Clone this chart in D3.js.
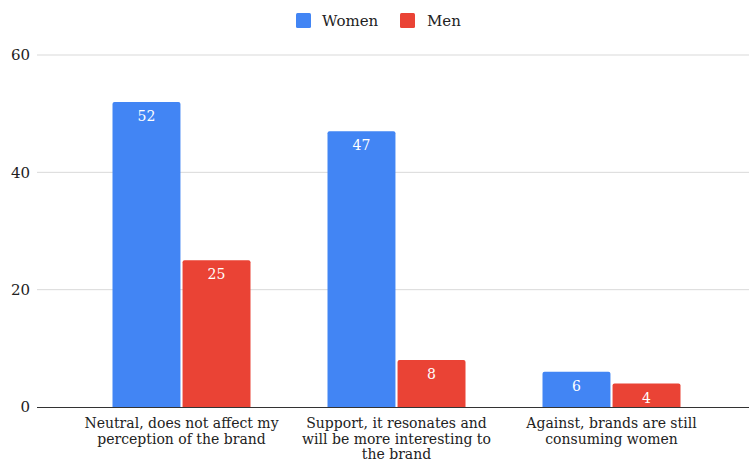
<!DOCTYPE html>
<html>
<head>
<meta charset="utf-8">
<script src="https://cdn.jsdelivr.net/npm/d3@7"></script>
<style>
  html, body { margin: 0; padding: 0; background: #fff; }
  svg { display: block; font-family: "DejaVu Serif", Georgia, serif; }
</style>
</head>
<body>
<svg id="chart" width="749" height="464"></svg>
<script>
const categories = [
  ["Neutral, does not affect my", "perception of the brand"],
  ["Support, it resonates and", "will be more interesting to", "the brand"],
  ["Against, brands are still", "consuming women"]
];
const seriesNames = ["Women", "Men"];
const women = [52, 47, 6];
const men = [25, 8, 4];
const yTicks = [0, 20, 40, 60];
const colors = ["#4285F4", "#EA4335"];

const svg = d3.select("#chart");
const plot = { left: 37, right: 749, top: 55, bottom: 407 };

const y = d3.scaleLinear().domain([0, 60]).range([plot.bottom, plot.top]);
const x = d3.scaleBand().domain(d3.range(categories.length)).range([74, 719]);
const xs = d3.scaleBand().domain(seriesNames)
  .range([x.bandwidth() / 2 - 69, x.bandwidth() / 2 + 69]).paddingInner(0.03);

// gridlines
svg.append("g")
  .selectAll("line").data(yTicks.filter(t => t > 0)).join("line")
  .attr("x1", plot.left).attr("x2", plot.right)
  .attr("y1", d => y(d)).attr("y2", d => y(d))
  .attr("stroke", "#d9d9d9").attr("stroke-width", 1);

// y tick labels
const yAxis = d3.axisLeft(y).tickValues(yTicks).tickSize(0).tickPadding(7);
const gy = svg.append("g").attr("transform", `translate(${plot.left},0)`).call(yAxis);
gy.select(".domain").remove();
gy.selectAll("text").attr("font-size", 15).attr("fill", "#222")
  .attr("font-family", "'DejaVu Serif', Georgia, serif");

// bars
const data = categories.map((c, i) => ({ i, vals: [women[i], men[i]] }));
const groups = svg.append("g").selectAll("g").data(data).join("g")
  .attr("transform", d => `translate(${x(d.i)},0)`);

const r = 2;
function topRounded(x0, y0, w, h) {
  return `M${x0},${y0 + h}V${y0 + r}Q${x0},${y0} ${x0 + r},${y0}H${x0 + w - r}Q${x0 + w},${y0} ${x0 + w},${y0 + r}V${y0 + h}Z`;
}

groups.selectAll("path").data(d => d.vals.map((v, k) => ({ v, k })))
  .join("path")
  .attr("d", d => topRounded(xs(seriesNames[d.k]), y(d.v), xs.bandwidth(), y(0) - y(d.v)))
  .attr("fill", d => colors[d.k]);

groups.selectAll("text.val").data(d => d.vals.map((v, k) => ({ v, k })))
  .join("text").attr("class", "val")
  .attr("x", d => xs(seriesNames[d.k]) + xs.bandwidth() / 2)
  .attr("y", d => y(d.v) + 19)
  .attr("text-anchor", "middle")
  .attr("font-size", 14).attr("fill", "#fff")
  .text(d => d.v);

// baseline
svg.append("line")
  .attr("x1", plot.left).attr("x2", plot.right)
  .attr("y1", y(0) + 0.5).attr("y2", y(0) + 0.5)
  .attr("stroke", "#333").attr("stroke-width", 1);

// category labels
const xl = svg.append("g").selectAll("text").data(categories).join("text")
  .attr("text-anchor", "middle")
  .attr("font-size", 14).attr("fill", "#222")
  .attr("x", (d, i) => x(i) + x.bandwidth() / 2)
  .attr("y", 428);
xl.selectAll("tspan").data(d => d).join("tspan")
  .attr("x", function () { return d3.select(this.parentNode).attr("x"); })
  .attr("dy", (d, j) => j === 0 ? 0 : 15.5)
  .text(d => d);

// legend
const legend = svg.append("g");
const legendPos = [{ sx: 296, tx: 322 }, { sx: 400, tx: 427 }];
seriesNames.forEach((s, k) => {
  legend.append("rect")
    .attr("x", legendPos[k].sx).attr("y", 13)
    .attr("width", 15).attr("height", 15).attr("rx", 1.5)
    .attr("fill", colors[k]);
  legend.append("text")
    .attr("x", legendPos[k].tx).attr("y", 26)
    .attr("font-size", 15).attr("fill", "#222")
    .text(s);
});
</script>
</body>
</html>
